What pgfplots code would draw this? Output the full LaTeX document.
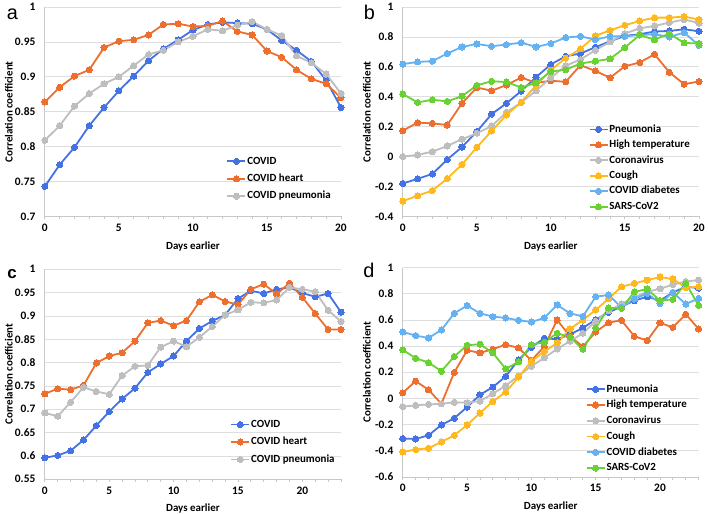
\documentclass[border=0pt]{standalone}
\usepackage{pgfplots}
\pgfplotsset{compat=1.18}
\usepackage{pgfplotstable}
\usepackage{fontspec}
\setmainfont{Carlito}
\newfontfamily\letterfont{Liberation Sans}

\definecolor{cBlue}{RGB}{68,114,228}
\definecolor{cOrange}{RGB}{237,110,45}
\definecolor{cGray}{RGB}{190,190,190}
\definecolor{cYellow}{RGB}{255,185,30}
\definecolor{cLBlue}{RGB}{100,178,242}
\definecolor{cGreen}{RGB}{105,210,50}
\definecolor{cGrid}{RGB}{222,222,222}
\definecolor{cAxis}{RGB}{200,200,200}

\pgfplotstableread{
x covid heart pneu
0 0.743 0.864 0.809
1 0.774 0.885 0.830
2 0.799 0.901 0.858
3 0.830 0.910 0.876
4 0.856 0.942 0.890
5 0.880 0.951 0.900
6 0.901 0.953 0.916
7 0.923 0.960 0.932
8 0.940 0.975 0.938
9 0.953 0.976 0.950
10 0.967 0.972 0.958
11 0.975 0.973 0.968
12 0.978 0.980 0.966
13 0.977 0.965 0.974
14 0.976 0.960 0.979
15 0.968 0.937 0.968
16 0.952 0.928 0.959
17 0.938 0.910 0.930
18 0.922 0.897 0.920
19 0.895 0.890 0.904
20 0.856 0.870 0.876
}\tabA

\pgfplotstableread{
x pneu high corona cough diab sars
0 -0.180 0.173 0.000 -0.298 0.618 0.418
1 -0.149 0.227 0.011 -0.262 0.633 0.362
2 -0.116 0.222 0.033 -0.227 0.638 0.380
3 -0.020 0.211 0.071 -0.147 0.689 0.369
4 0.064 0.356 0.116 -0.053 0.733 0.404
5 0.167 0.462 0.156 0.062 0.753 0.476
6 0.284 0.440 0.204 0.171 0.738 0.504
7 0.356 0.478 0.296 0.278 0.749 0.498
8 0.438 0.529 0.362 0.364 0.762 0.462
9 0.531 0.493 0.440 0.476 0.733 0.493
10 0.616 0.507 0.527 0.578 0.756 0.569
11 0.671 0.500 0.607 0.658 0.796 0.580
12 0.689 0.611 0.649 0.720 0.804 0.622
13 0.731 0.573 0.711 0.807 0.782 0.638
14 0.771 0.527 0.767 0.844 0.804 0.653
15 0.807 0.604 0.822 0.878 0.804 0.729
16 0.818 0.629 0.858 0.907 0.813 0.813
17 0.836 0.684 0.873 0.929 0.818 0.782
18 0.840 0.564 0.896 0.929 0.800 0.822
19 0.851 0.484 0.916 0.936 0.829 0.760
20 0.838 0.502 0.893 0.916 0.744 0.756
}\tabB

\pgfplotstableread{
x covid heart pneu
0 0.596 0.733 0.692
1 0.601 0.744 0.685
2 0.611 0.742 0.715
3 0.634 0.751 0.747
4 0.665 0.799 0.738
5 0.695 0.814 0.732
6 0.722 0.821 0.772
7 0.745 0.846 0.792
8 0.779 0.885 0.794
9 0.797 0.890 0.833
10 0.814 0.879 0.846
11 0.846 0.890 0.834
12 0.873 0.930 0.854
13 0.889 0.945 0.877
14 0.902 0.931 0.902
15 0.937 0.924 0.913
16 0.954 0.957 0.929
17 0.948 0.968 0.928
18 0.957 0.947 0.934
19 0.961 0.970 0.961
20 0.949 0.940 0.957
21 0.941 0.905 0.952
22 0.948 0.871 0.912
23 0.908 0.871 0.888
}\tabC

\pgfplotstableread{
x pneu high corona cough diab sars
0 -0.307 0.043 -0.063 -0.409 0.508 0.371
1 -0.310 0.132 -0.053 -0.391 0.480 0.307
2 -0.282 0.066 -0.046 -0.381 0.462 0.274
3 -0.203 -0.041 -0.041 -0.333 0.523 0.208
4 -0.152 0.198 -0.030 -0.282 0.650 0.320
5 -0.066 0.368 -0.033 -0.203 0.709 0.406
6 0.028 0.348 -0.020 -0.112 0.650 0.414
7 0.086 0.376 0.036 -0.023 0.625 0.348
8 0.168 0.411 0.097 0.048 0.615 0.226
9 0.295 0.386 0.173 0.163 0.597 0.279
10 0.391 0.290 0.246 0.284 0.584 0.411
11 0.460 0.396 0.310 0.358 0.615 0.429
12 0.452 0.599 0.378 0.424 0.714 0.498
13 0.488 0.475 0.437 0.531 0.650 0.467
14 0.538 0.396 0.498 0.599 0.627 0.376
15 0.602 0.508 0.589 0.676 0.777 0.538
16 0.658 0.579 0.670 0.762 0.790 0.691
17 0.701 0.597 0.721 0.853 0.696 0.688
18 0.747 0.475 0.772 0.879 0.759 0.813
19 0.777 0.442 0.815 0.904 0.803 0.836
20 0.747 0.577 0.838 0.927 0.726 0.747
21 0.810 0.543 0.869 0.912 0.810 0.757
22 0.853 0.643 0.894 0.848 0.721 0.879
23 0.843 0.531 0.904 0.853 0.764 0.711
}\tabD

\pgfplotsset{
  panel/.style={
    scale only axis, width=297bp, height=210bp,
    anchor=south west, clip=false,
    axis x line*=bottom, axis y line*=left,
    axis line style={draw=cAxis, line width=0.8bp},
    every inner x axis line/.append style={-},
    every inner y axis line/.append style={-},
    ymajorgrids, grid style={draw=cGrid, line width=0.7bp},
    ytick style={draw=none},
    xtick style={draw=cAxis, line width=0.8bp},
    minor x tick num=4,
    tick align=outside, major tick length=3bp, minor tick length=3bp,
    /pgf/number format/assume math mode=true,
    ticklabel style={font=\fontsize{11.5}{13}\selectfont\bfseries},
    yticklabel style={xshift=-3bp},
    xticklabel style={yshift=-1bp},
    xlabel={Days earlier}, ylabel={Correlation coefficient},
    label style={font=\fontsize{11}{13}\selectfont\bfseries},
    xlabel style={at={(rel axis cs:0.5,0)}, anchor=north, yshift=-25bp, inner sep=0pt},
    ylabel style={at={(rel axis cs:0,0.5)}, anchor=south, rotate=0, yshift=32bp, inner sep=0pt},
    legend cell align=left,
    legend style={draw=none, fill=none, inner sep=0pt,
      font=\fontsize{11}{13}\selectfont\bfseries,
      nodes={inner sep=1bp, text height=8bp, text depth=2.5bp}},
    legend image code/.code={
      \draw[mark=none,##1] (0bp,0bp) -- (18bp,0bp);
      \draw[only marks,##1] plot coordinates {(9bp,0bp)};
    },
    every axis plot/.append style={line width=1.8bp, mark=*, mark size=3.1bp},
  },
  ser/.style={color=#1, mark options={solid, fill=#1, draw=#1, line width=0pt}},
}

\begin{document}
\begin{tikzpicture}
\path (0,0) rectangle (708bp,515bp);

% Panel a
\begin{axis}[panel, at={(45bp,298.3bp)},
  xmin=0, xmax=20, ymin=0.7, ymax=1,
  xtick={0,5,10,15,20}, ytick={0.7,0.75,0.8,0.85,0.9,0.95,1},
  legend style={at={(0.613,0.294)}, anchor=north west, row sep=5bp}]
\addplot[ser=cBlue] table[x=x,y=covid]{\tabA};
\addlegendentry{COVID}
\addplot[ser=cOrange] table[x=x,y=heart]{\tabA};
\addlegendentry{COVID heart}
\addplot[ser=cGray] table[x=x,y=pneu]{\tabA};
\addlegendentry{COVID pneumonia}
\end{axis}

% Panel b
\begin{axis}[panel, at={(404bp,298.3bp)},
  xmin=0, xmax=20, ymin=-0.4, ymax=1,
  xtick={0,5,10,15,20}, ytick={-0.4,-0.2,0,0.2,0.4,0.6,0.8,1},
  legend style={at={(0.627,0.446)}, anchor=north west, row sep=3bp}]
\addplot[ser=cBlue] table[x=x,y=pneu]{\tabB};
\addlegendentry{Pneumonia}
\addplot[ser=cOrange] table[x=x,y=high]{\tabB};
\addlegendentry{High temperature}
\addplot[ser=cGray] table[x=x,y=corona]{\tabB};
\addlegendentry{Coronavirus}
\addplot[ser=cYellow] table[x=x,y=cough]{\tabB};
\addlegendentry{Cough}
\addplot[ser=cLBlue] table[x=x,y=diab]{\tabB};
\addlegendentry{COVID diabetes}
\addplot[ser=cGreen] table[x=x,y=sars]{\tabB};
\addlegendentry{SARS-CoV2}
\end{axis}

% Panel c
\begin{axis}[panel, at={(45bp,34.7bp)}, height=210.6bp,
  xmin=0, xmax=23, ymin=0.55, ymax=1,
  xtick={0,5,10,15,20}, minor xtick={0,...,23},
  ytick={0.55,0.6,0.65,0.7,0.75,0.8,0.85,0.9,0.95,1},
  legend style={at={(0.626,0.291)}, anchor=north west, row sep=5bp}]
\addplot[ser=cBlue] table[x=x,y=covid]{\tabC};
\addlegendentry{COVID}
\addplot[ser=cOrange] table[x=x,y=heart]{\tabC};
\addlegendentry{COVID heart}
\addplot[ser=cGray] table[x=x,y=pneu]{\tabC};
\addlegendentry{COVID pneumonia}
\end{axis}

% Panel d
\begin{axis}[panel, at={(404bp,37bp)}, width=296.7bp,
  xmin=0, xmax=23, ymin=-0.6, ymax=1,
  xtick={0,5,10,15,20}, minor xtick={0,...,23},
  ytick={-0.6,-0.4,-0.2,0,0.2,0.4,0.6,0.8,1},
  legend style={at={(0.618,0.449)}, anchor=north west, row sep=3.3bp}]
\addplot[ser=cBlue] table[x=x,y=pneu]{\tabD};
\addlegendentry{Pneumonia}
\addplot[ser=cOrange] table[x=x,y=high]{\tabD};
\addlegendentry{High temperature}
\addplot[ser=cGray] table[x=x,y=corona]{\tabD};
\addlegendentry{Coronavirus}
\addplot[ser=cYellow] table[x=x,y=cough]{\tabD};
\addlegendentry{Cough}
\addplot[ser=cLBlue] table[x=x,y=diab]{\tabD};
\addlegendentry{COVID diabetes}
\addplot[ser=cGreen] table[x=x,y=sars]{\tabD};
\addlegendentry{SARS-CoV2}
\end{axis}

\node[font=\letterfont\fontsize{20}{22}\selectfont] at (12.5bp,501bp) {a};
\node[font=\letterfont\fontsize{20}{22}\selectfont] at (370.5bp,502.5bp) {b};
\node[font=\letterfont\bfseries\fontsize{17}{20}\selectfont] at (12bp,240.5bp) {c};
\node[font=\letterfont\fontsize{20}{22}\selectfont] at (370bp,244.5bp) {d};
\end{tikzpicture}
\end{document}
